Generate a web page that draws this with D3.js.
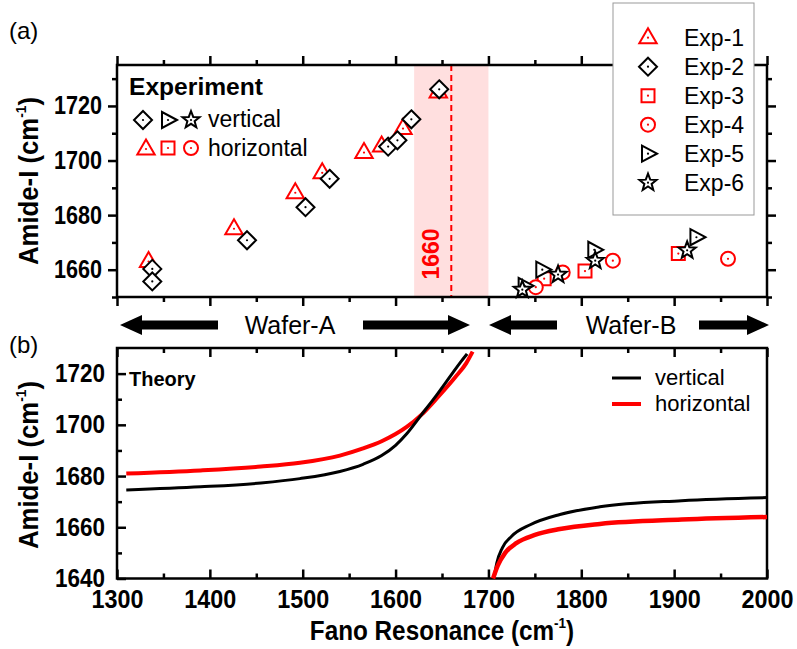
<!DOCTYPE html>
<html>
<head>
<meta charset="utf-8">
<script src="https://cdn.jsdelivr.net/npm/d3@7"></script>
<style>
  body { margin: 0; background: #fff; }
  svg text { font-family: 'Liberation Sans', Arial, sans-serif; }
  .tick text { font-family: 'Liberation Sans', Arial, sans-serif; font-weight: bold; font-size: 25px; fill: #000; }
</style>
</head>
<body>
<div id="chart"></div>
<script>
// ---- data ----
const xTicks = [1300, 1400, 1500, 1600, 1700, 1800, 1900, 2000];
const yTicksTop = [1660, 1680, 1700, 1720];
const yTicksBottom = [1640, 1660, 1680, 1700, 1720];

// experiment (Fano resonance, amide-I)
const exp1 = [[1334, 1663], [1426, 1675], [1492, 1688.2], [1521, 1695.5], [1566, 1702.9], [1585, 1705.3], [1608, 1711.7], [1646, 1725.1]];
const exp2 = [[1338, 1660.3], [1338, 1655.7], [1440, 1670.8], [1503, 1682.9], [1529, 1693.3], [1592, 1705.1], [1602, 1707.4], [1617, 1715.1], [1647, 1726.1]];
const exp3 = [[1760, 1656.7], [1804, 1659.5], [1904.5, 1665.9]];
const exp4 = [[1751, 1653.6], [1780, 1659], [1834, 1663.3], [1958, 1664]];
const exp5 = [[1739, 1654.1], [1758, 1660], [1814, 1667.3], [1924, 1671.9]];
const exp6 = [[1736.5, 1652.7], [1775, 1658.2], [1815, 1663.3], [1914, 1667.1]];

// theory curves
const vertLeft = [[1310, 1674.6], [1390, 1675.8], [1455, 1677.3], [1497, 1679], [1540, 1681.8], [1565, 1684.6], [1585, 1688], [1600, 1692], [1612, 1696.5], [1628, 1704], [1644, 1711.5], [1659, 1719], [1670, 1724.5], [1677, 1727.7]];
const horizLeft = [[1310, 1681], [1390, 1682.2], [1455, 1683.7], [1497, 1685.2], [1540, 1688], [1565, 1690.8], [1585, 1693.6], [1600, 1696.4], [1612, 1699.2], [1628, 1704], [1646, 1711], [1664, 1718.5], [1676, 1724], [1683, 1728.6]];
const vertRight = [[1706, 1640], [1709, 1646], [1715, 1652], [1725, 1656.5], [1745, 1661], [1777, 1665], [1820, 1668], [1908, 1670.4], [2000, 1671.6]];
const horizRight = [[1705, 1640], [1710, 1645], [1718, 1650], [1730, 1653.8], [1750, 1657], [1777, 1659.3], [1820, 1661.3], [1908, 1663], [2000, 1664]];

const legendNames = ['Exp-1', 'Exp-2', 'Exp-3', 'Exp-4', 'Exp-5', 'Exp-6'];
const legendShapes = ['tri', 'diamond', 'square', 'circle', 'right', 'star'];
const legendColors = ['red', 'black', 'red', 'red', 'black', 'black'];

const width = 797, height = 649;
const left = 117, right = 767;

const svg = d3.select('#chart').append('svg')
    .attr('width', width)
    .attr('height', height);

const x = d3.scaleLinear().domain([1300, 2000]).range([left, right]);
const yTop = d3.scaleLinear().domain([1650, 1735]).range([297, 65]);
const yBot = d3.scaleLinear().domain([1640, 1730]).range([578.5, 348]);

const minorX = d3.range(1350, 2000, 100);

// marker paths centered at 0,0
function shapePath(kind) {
    switch (kind) {
        case 'tri': return 'M0,-9.5L8.7,5.5L-8.7,5.5Z';
        case 'diamond': return 'M0,-9L9,0L0,9L-9,0Z';
        case 'square': return 'M-6.5,-6.5H6.5V6.5H-6.5Z';
        case 'right': return 'M9,0L-6,-8L-6,8Z';
        case 'star': {
            const pts = [];
            for (let i = 0; i < 10; i++) {
                const r = i % 2 ? 3.8 : 9;
                const a = -Math.PI / 2 + i * Math.PI / 5;
                pts.push([r * Math.cos(a), r * Math.sin(a)]);
            }
            return 'M' + pts.map(p => p.join(',')).join('L') + 'Z';
        }
    }
}

function drawMarker(g, kind, color, cx, cy) {
    const m = g.append('g').attr('transform', `translate(${cx},${cy})`);
    if (kind === 'circle') {
        m.append('circle').attr('r', 7).attr('fill', '#fff').attr('stroke', color).attr('stroke-width', 2);
    } else {
        m.append('path').attr('d', shapePath(kind)).attr('fill', '#fff')
            .attr('stroke', color).attr('stroke-width', 2).attr('stroke-linejoin', 'miter');
    }
    m.append('circle').attr('r', 1.1).attr('fill', color);
}

// ---------------- panel (a) ----------------
const gA = svg.append('g');

// shaded region and 1660 line
gA.append('rect')
    .attr('x', x(1620)).attr('y', yTop(1735))
    .attr('width', x(1700) - x(1620)).attr('height', yTop(1650) - yTop(1735))
    .attr('fill', '#ffdfdf');
gA.append('line')
    .attr('x1', x(1660)).attr('x2', x(1660))
    .attr('y1', yTop(1735)).attr('y2', yTop(1650))
    .attr('stroke', 'red').attr('stroke-width', 2).attr('stroke-dasharray', '6,4');
gA.append('text')
    .attr('transform', `translate(${x(1660) - 12},${254}) rotate(-90)`)
    .attr('text-anchor', 'middle')
    .attr('font-weight', 'bold').attr('font-size', 23).attr('fill', 'red')
    .text('1660');

// axes
function axisSet(g, scale, y0, y1, orient, major, minor, inward, labels, labelLen) {
    const sign = inward ? -1 : 1;
    const mk = (ticks, size, fmt) => {
        let ax;
        if (orient === 'left') ax = d3.axisLeft(scale);
        if (orient === 'right') ax = d3.axisRight(scale);
        if (orient === 'top') ax = d3.axisTop(scale);
        if (orient === 'bottom') ax = d3.axisBottom(scale);
        ax.tickValues(ticks).tickSizeOuter(0).tickSizeInner(sign * size)
            .tickPadding(inward ? 12 : 6);
        ax.tickFormat(fmt ? d3.format('d') : '');
        const a = g.append('g');
        if (orient === 'left') a.attr('transform', `translate(${left},0)`);
        if (orient === 'right') a.attr('transform', `translate(${right},0)`);
        if (orient === 'top') a.attr('transform', `translate(0,${y1})`);
        if (orient === 'bottom') a.attr('transform', `translate(0,${y0})`);
        a.call(ax);
        a.select('.domain').remove();
        a.selectAll('.tick line').attr('stroke', '#000').attr('stroke-width', 2.5);
        if (fmt) {
            a.selectAll('.tick text')
                .attr('textLength', labelLen)
                .attr('lengthAdjust', 'spacingAndGlyphs');
        }
        return a;
    };
    mk(major, 9, labels);
    mk(minor, 5, false);
}

const minorTop = d3.range(1670, 1735, 20).concat([1650]);
axisSet(gA, yTop, 297, 65, 'left', yTicksTop, minorTop, false, true, 48);
axisSet(gA, yTop, 297, 65, 'right', yTicksTop, minorTop, false, false);
axisSet(gA, x, 297, 65, 'top', xTicks, minorX, false, false);
axisSet(gA, x, 297, 65, 'bottom', xTicks, minorX, false, false);

gA.append('rect')
    .attr('x', left).attr('y', 65).attr('width', right - left).attr('height', 297 - 65)
    .attr('fill', 'none').attr('stroke', '#000').attr('stroke-width', 2.5);

// markers
const series = [[exp1, 'tri', 'red'], [exp2, 'diamond', 'black'], [exp3, 'square', 'red'],
    [exp4, 'circle', 'red'], [exp5, 'right', 'black'], [exp6, 'star', 'black']];
series.forEach(([data, kind, color]) => {
    const g = gA.append('g');
    data.forEach(d => drawMarker(g, kind, color, x(d[0]), yTop(d[1])));
});

// inner legend "Experiment"
gA.append('text').attr('x', 129).attr('y', 95)
    .attr('font-weight', 'bold').attr('font-size', 23)
    .attr('textLength', 134).attr('lengthAdjust', 'spacingAndGlyphs')
    .text('Experiment');
const lg1 = gA.append('g');
drawMarker(lg1, 'diamond', 'black', 143, 120);
drawMarker(lg1, 'right', 'black', 168, 120);
drawMarker(lg1, 'star', 'black', 191, 120);
drawMarker(lg1, 'tri', 'red', 146, 149);
drawMarker(lg1, 'square', 'red', 168, 148);
drawMarker(lg1, 'circle', 'red', 191, 148);
gA.append('text').attr('x', 208).attr('y', 127).attr('font-size', 23).text('vertical');
gA.append('text').attr('x', 208).attr('y', 156).attr('font-size', 23).text('horizontal');

// legend box
const lg = svg.append('g');
lg.append('rect').attr('x', 613).attr('y', 3).attr('width', 141).attr('height', 212)
    .attr('fill', '#fff').attr('stroke', '#999').attr('stroke-width', 1);
legendNames.forEach((name, i) => {
    const cy = 37.7 + i * 29;
    drawMarker(lg, legendShapes[i], legendColors[i], 648, cy);
    lg.append('text').attr('x', 684).attr('y', cy + 8).attr('font-size', 23).text(name);
});

// panel labels
svg.append('text').attr('x', 9).attr('y', 39).attr('font-size', 24).text('(a)');
svg.append('text').attr('x', 9).attr('y', 353).attr('font-size', 24).text('(b)');

// y titles
function yTitle(cy) {
    const t = svg.append('text')
        .attr('transform', `translate(38,${cy}) rotate(-90) scale(0.92,1)`)
        .attr('text-anchor', 'middle')
        .attr('font-weight', 'bold').attr('font-size', 28);
    t.append('tspan').text('Amide-I (cm');
    t.append('tspan').attr('font-size', 15).attr('dy', -12).text('-1');
    t.append('tspan').attr('dy', 12).text(')');
}
yTitle(181);
yTitle(465);

// wafer arrows
function arrow(x0, x1, dir, cy) {
    // dir: -1 points left (tip at x0), +1 points right (tip at x1)
    const head = 22, hh = 10, sh = 4.5;
    let d;
    if (dir < 0) {
        d = `M${x0},${cy}L${x0 + head},${cy - hh}L${x0 + head},${cy - sh}L${x1},${cy - sh}L${x1},${cy + sh}L${x0 + head},${cy + sh}L${x0 + head},${cy + hh}Z`;
    } else {
        d = `M${x1},${cy}L${x1 - head},${cy - hh}L${x1 - head},${cy - sh}L${x0},${cy - sh}L${x0},${cy + sh}L${x1 - head},${cy + sh}L${x1 - head},${cy + hh}Z`;
    }
    svg.append('path').attr('d', d).attr('fill', '#000');
}
const arrowY = 325;
arrow(120, 218, -1, arrowY);
arrow(363, 470, 1, arrowY);
arrow(489, 557, -1, arrowY);
arrow(699, 769, 1, arrowY);
svg.append('text').attr('x', 290).attr('y', arrowY + 9).attr('text-anchor', 'middle').attr('font-size', 25).text('Wafer-A');
svg.append('text').attr('x', 631).attr('y', arrowY + 9).attr('text-anchor', 'middle').attr('font-size', 25).text('Wafer-B');

// ---------------- panel (b) ----------------
const gB = svg.append('g');
const minorBot = d3.range(1650, 1730, 20);
axisSet(gB, yBot, 578.5, 348, 'left', yTicksBottom, minorBot, true, true, 50);
axisSet(gB, x, 578.5, 348, 'bottom', xTicks, minorX, true, true, 52);
axisSet(gB, x, 578.5, 348, 'top', xTicks, minorX, true, false);

gB.append('rect')
    .attr('x', left).attr('y', 348).attr('width', right - left).attr('height', 578.5 - 348)
    .attr('fill', 'none').attr('stroke', '#000').attr('stroke-width', 2.5);

const line = d3.line().x(d => x(d[0])).y(d => yBot(d[1])).curve(d3.curveMonotoneX);
gB.append('path').datum(horizLeft).attr('d', line).attr('fill', 'none').attr('stroke', 'red').attr('stroke-width', 4);
gB.append('path').datum(vertLeft).attr('d', line).attr('fill', 'none').attr('stroke', 'black').attr('stroke-width', 3);
gB.append('path').datum(vertRight).attr('d', line).attr('fill', 'none').attr('stroke', 'black').attr('stroke-width', 3);
gB.append('path').datum(horizRight).attr('d', line).attr('fill', 'none').attr('stroke', 'red').attr('stroke-width', 4.5);

gB.append('text').attr('x', 129).attr('y', 386).attr('font-weight', 'bold').attr('font-size', 20).text('Theory');
gB.append('line').attr('x1', 612).attr('x2', 641).attr('y1', 378).attr('y2', 378).attr('stroke', 'black').attr('stroke-width', 3);
gB.append('line').attr('x1', 612).attr('x2', 641).attr('y1', 404).attr('y2', 404).attr('stroke', 'red').attr('stroke-width', 4);
gB.append('text').attr('x', 655).attr('y', 385).attr('font-size', 22).text('vertical');
gB.append('text').attr('x', 655).attr('y', 411).attr('font-size', 22).text('horizontal');

// x title
const xt = svg.append('text')
    .attr('transform', 'translate(442,640) scale(0.9,1)')
    .attr('text-anchor', 'middle')
    .attr('font-weight', 'bold').attr('font-size', 27);
xt.append('tspan').text('Fano Resonance (cm');
xt.append('tspan').attr('font-size', 15).attr('dy', -12).text('-1');
xt.append('tspan').attr('dy', 12).text(')');
</script>
</body>
</html>
